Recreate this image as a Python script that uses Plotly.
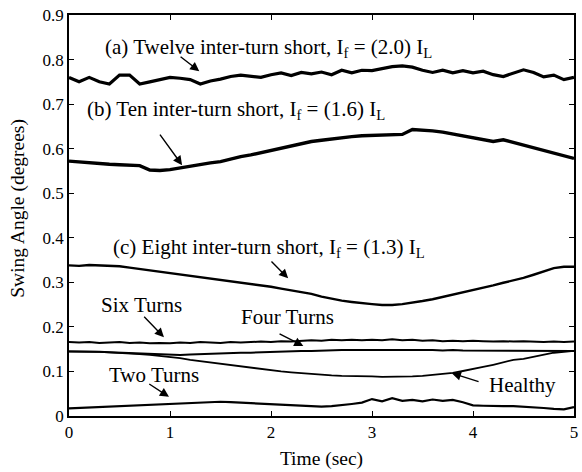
import plotly.graph_objects as go

time = [round(i * 0.1, 1) for i in range(51)]

twelve = [0.760, 0.750, 0.760, 0.750, 0.745, 0.765, 0.765, 0.745, 0.750, 0.755,
          0.760, 0.758, 0.755, 0.745, 0.752, 0.756, 0.762, 0.765, 0.762, 0.760,
          0.766, 0.770, 0.764, 0.771, 0.768, 0.772, 0.766, 0.776, 0.770, 0.776,
          0.775, 0.780, 0.784, 0.786, 0.783, 0.776, 0.771, 0.776, 0.770, 0.775,
          0.770, 0.774, 0.766, 0.762, 0.770, 0.777, 0.771, 0.761, 0.765, 0.755,
          0.760]

ten = [0.572, 0.570, 0.568, 0.566, 0.565, 0.564, 0.563, 0.562, 0.552, 0.551,
       0.553, 0.557, 0.561, 0.565, 0.568, 0.571, 0.577, 0.582, 0.586, 0.591,
       0.596, 0.601, 0.607, 0.612, 0.616, 0.619, 0.622, 0.625, 0.627, 0.629,
       0.630, 0.631, 0.632, 0.632, 0.643, 0.642, 0.640, 0.637, 0.633, 0.629,
       0.625, 0.621, 0.616, 0.620, 0.614, 0.608, 0.602, 0.596, 0.590, 0.584,
       0.578]

eight = [0.338, 0.337, 0.339, 0.338, 0.338, 0.336, 0.333, 0.330, 0.327, 0.324,
         0.321, 0.318, 0.315, 0.312, 0.309, 0.306, 0.303, 0.300, 0.297, 0.293,
         0.290, 0.286, 0.282, 0.278, 0.274, 0.268, 0.263, 0.259, 0.256, 0.253,
         0.251, 0.249, 0.249, 0.251, 0.254, 0.258, 0.262, 0.267, 0.272, 0.277,
         0.282, 0.287, 0.293, 0.299, 0.304, 0.310, 0.317, 0.325, 0.332, 0.335,
         0.335]

six = [0.166, 0.165, 0.166, 0.164, 0.165, 0.166, 0.164, 0.165, 0.163, 0.164,
       0.163, 0.165, 0.164, 0.166, 0.165, 0.164, 0.166, 0.165, 0.166, 0.167,
       0.166, 0.168, 0.167, 0.169, 0.170, 0.169, 0.171, 0.170, 0.171, 0.170,
       0.171, 0.170, 0.172, 0.170, 0.171, 0.169, 0.170, 0.168, 0.169, 0.168,
       0.169, 0.168, 0.167, 0.168, 0.167, 0.168, 0.167, 0.166, 0.167, 0.166,
       0.167]

four = [0.145, 0.145, 0.144, 0.144, 0.143, 0.142, 0.141, 0.140, 0.139, 0.138,
        0.137, 0.137, 0.138, 0.139, 0.140, 0.140, 0.141, 0.142, 0.142, 0.143,
        0.143, 0.144, 0.145, 0.146, 0.146, 0.147, 0.147, 0.148, 0.148, 0.148,
        0.148, 0.148, 0.149, 0.148, 0.148, 0.148, 0.148, 0.147, 0.148, 0.147,
        0.147, 0.147, 0.147, 0.146, 0.146, 0.146, 0.146, 0.146, 0.146, 0.146,
        0.146]

healthy = [0.145, 0.145, 0.144, 0.144, 0.143, 0.142, 0.141, 0.139, 0.137, 0.135,
           0.132, 0.130, 0.126, 0.123, 0.121, 0.118, 0.115, 0.111, 0.108, 0.105,
           0.102, 0.100, 0.098, 0.096, 0.094, 0.093, 0.091, 0.090, 0.090, 0.089,
           0.089, 0.088, 0.088, 0.088, 0.089, 0.090, 0.092, 0.094, 0.097, 0.101,
           0.105, 0.110, 0.115, 0.120, 0.126, 0.128, 0.133, 0.138, 0.142, 0.144,
           0.146]

two = [0.017, 0.018, 0.019, 0.020, 0.021, 0.022, 0.024, 0.025, 0.026, 0.027,
       0.028, 0.029, 0.030, 0.031, 0.032, 0.032, 0.031, 0.030, 0.028, 0.027,
       0.026, 0.025, 0.024, 0.023, 0.022, 0.021, 0.022, 0.024, 0.027, 0.030,
       0.038, 0.033, 0.040, 0.034, 0.036, 0.033, 0.037, 0.034, 0.036, 0.031,
       0.024, 0.023, 0.022, 0.022, 0.022, 0.021, 0.020, 0.018, 0.016, 0.015,
       0.020]

series = [
    ("Twelve", twelve, 3.2),
    ("Ten", ten, 3.4),
    ("Eight", eight, 2.4),
    ("Six", six, 2.0),
    ("Four", four, 2.0),
    ("Healthy", healthy, 1.8),
    ("Two", two, 2.2),
]

x_ticks = [0, 1, 2, 3, 4, 5]
x_tick_text = ["0", "1", "2", "3", "4", "5"]
y_ticks = [0, 0.1, 0.2, 0.3, 0.4, 0.5, 0.6, 0.7, 0.8, 0.9]
y_tick_text = ["0", "0.1", "0.2", "0.3", "0.4", "0.5", "0.6", "0.7", "0.8", "0.9"]

labels = [
    ("(a) Twelve inter-turn short, I<sub>f</sub> = (2.0) I<sub>L</sub>", 0.334, 0.827),
    ("(b) Ten inter-turn short, I<sub>f</sub> = (1.6) I<sub>L</sub>", 0.157, 0.686),
    ("(c) Eight inter-turn short, I<sub>f</sub> = (1.3) I<sub>L</sub>", 0.42, 0.377),
    ("Six Turns", 0.30, 0.249),
    ("Four Turns", 1.68, 0.222),
    ("Two Turns", 0.38, 0.092),
    ("Healthy", 4.14, 0.070),
]

# (tail_x, tail_y, head_x, head_y)
arrows = [
    (1.09, 0.809, 1.29, 0.774),
    (0.89, 0.635, 1.12, 0.563),
    (1.99, 0.350, 2.17, 0.309),
    (0.73, 0.226, 0.94, 0.177),
    (2.07, 0.186, 2.32, 0.157),
    (0.78, 0.074, 0.99, 0.043),
    (4.07, 0.076, 3.79, 0.096),
]

FONT = "Liberation Serif, Times New Roman, serif"

fig = go.Figure()
for name, vals, w in series:
    fig.add_trace(go.Scatter(x=time, y=vals, mode="lines", name=name,
                             line=dict(color="black", width=w), showlegend=False))

for text, x, y in labels:
    fig.add_annotation(x=x, y=y, xref="x", yref="y", text=text, showarrow=False,
                       xanchor="left", yanchor="middle",
                       font=dict(family=FONT, size=21, color="black"))

for tx, ty, hx, hy in arrows:
    fig.add_annotation(x=hx, y=hy, ax=tx, ay=ty, xref="x", yref="y",
                       axref="x", ayref="y", text="", showarrow=True,
                       arrowhead=2, arrowsize=1.3, arrowwidth=1.4, arrowcolor="black")

# y-axis title placed as a rotated annotation
fig.add_annotation(x=-0.1012, y=0.519, xref="paper", yref="paper",
                   text="Swing Angle (degrees)", showarrow=False, textangle=-90,
                   xanchor="center", yanchor="middle",
                   font=dict(family=FONT, size=19.5, color="black"))

axis_common = dict(showline=True, linecolor="black", linewidth=1.5, mirror="ticks",
                   ticks="inside", ticklen=5, tickcolor="black", tickwidth=1.2,
                   showgrid=False, zeroline=False,
                   tickfont=dict(family=FONT, size=17, color="black"))

fig.update_xaxes(range=[0, 5], tickvals=x_ticks, ticktext=x_tick_text,
                 title=dict(text="Time (sec)", font=dict(family=FONT, size=19.5, color="black"),
                            standoff=10),
                 **axis_common)
fig.update_yaxes(range=[0, 0.9], tickvals=y_ticks, ticktext=y_tick_text,
                 **axis_common)

fig.update_layout(width=582, height=472, margin=dict(l=69, r=4, t=15, b=56),
                  plot_bgcolor="white", paper_bgcolor="white")

fig.write_html("out.html")
